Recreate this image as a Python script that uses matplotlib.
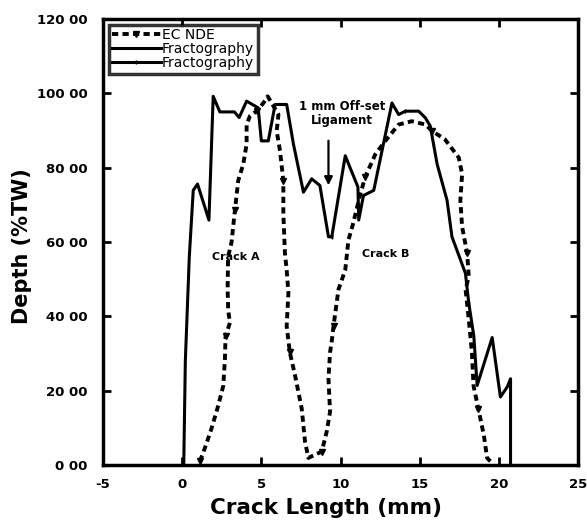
import matplotlib
matplotlib.use("Agg")
import matplotlib.pyplot as plt

# EC NDE (dashed)
ec_x = [1.12, 1.43, 1.86, 2.28, 2.6, 2.7, 2.74, 3.02, 2.91, 2.87, 2.9, 3.12, 3.33, 3.54, 3.86, 4.07, 4.07, 4.28,
        4.7, 5.13, 5.4, 6.08, 5.97, 6.18, 6.39, 6.39, 6.49, 6.6, 6.71, 6.6, 6.8, 7.13, 7.55, 7.76, 7.97, 8.4, 8.82,
        9.13, 9.34, 9.24, 9.34, 9.45, 9.56, 9.87, 10.3, 10.5, 10.8, 11.2, 11.55, 12.2, 12.83, 13.67, 14.5, 15.36,
        15.78, 16.6, 17.47, 17.68, 17.57, 17.68, 18.0, 18.1, 17.9, 18.1, 18.3, 18.4, 18.7, 19.05, 19.26, 19.46]
ec_y = [1.0, 4.5, 9.9, 16.0, 21.4, 28.5, 34.7, 38.3, 41.4, 47.2, 56.0, 60.0, 68.5, 76.5, 81.0, 86.3, 91.6, 93.9,
        95.2, 97.4, 99.2, 94.3, 89.9, 84.5, 76.5, 67.7, 57.0, 52.5, 46.3, 37.4, 30.3, 24.1, 15.2, 6.3, 1.9, 2.8, 3.6,
        9.0, 14.3, 23.2, 30.3, 33.4, 37.4, 47.2, 52.5, 60.5, 65.0, 72.0, 77.4, 83.6, 87.2, 91.6, 92.5, 91.6,
        89.9, 87.6, 82.7, 78.3, 71.2, 64.1, 57.0, 50.7, 47.2, 39.2, 30.3, 21.4, 15.2, 8.1, 1.9, 1.0]

# Fractography, crack A (solid)
fa_x = [0.1, 0.2, 0.45, 0.7, 0.97, 1.69, 1.96, 2.38, 3.3, 3.6, 4.07, 4.8, 5.0, 5.44, 5.87, 6.6, 7.03, 7.66,
        8.18, 8.7, 9.24, 9.45]
fa_y = [0.0, 28.0, 56.0, 73.9, 75.6, 65.9, 99.2, 95.0, 95.0, 93.5, 97.9, 96.1, 87.2, 87.2, 97.0, 97.0, 86.3, 73.4,
        77.0, 75.2, 61.4, 61.4]

# Fractography, crack B (solid)
fb_x = [9.45, 10.3, 11.1, 11.15, 11.45, 12.1, 13.25, 13.67, 14.1, 14.94, 15.36, 15.67, 16.1, 16.73, 17.04,
        17.89, 18.1, 18.42, 18.63, 19.58, 20.1, 20.53, 20.74, 20.74]
fb_y = [61.4, 83.2, 74.8, 65.9, 72.5, 73.9, 97.4, 94.3, 95.2, 95.2, 93.4, 91.2, 81.0, 71.2, 61.4,
        51.6, 43.6, 34.7, 21.4, 34.3, 18.3, 21.0, 23.2, 0.5]

x_ticks = [-5, 0, 5, 10, 15, 20, 25]
x_labels = ["-5", "0", "5", "10", "15", "20", "25"]
y_ticks = [0, 20, 40, 60, 80, 100, 120]
y_labels = ["0 00", "20 00", "40 00", "60 00", "80 00", "100 00", "120 00"]

fig = plt.figure(figsize=(5.87, 5.25), dpi=100)
ax = fig.add_axes([103 / 587, 1 - 465 / 525, (578 - 103) / 587, (465 - 19) / 525])

ax.plot(ec_x, ec_y, color="black", linestyle=(0, (1.6, 1.1)), linewidth=2.8,
        marker="v", markersize=4, markevery=6, label="EC NDE")
ax.plot(fa_x, fa_y, color="black", linestyle="-", linewidth=2.2, label="Fractography")
ax.plot(fb_x, fb_y, color="black", linestyle="-", linewidth=2.2,
        marker="|", markersize=3, markevery=8, label="Fractography")

ax.set_xlim(-5, 25)
ax.set_ylim(0, 120)
ax.set_xticks(x_ticks)
ax.set_xticklabels(x_labels)
ax.set_yticks(y_ticks)
ax.set_yticklabels(y_labels)
for lab in ax.get_xticklabels() + ax.get_yticklabels():
    lab.set_fontweight("bold")
    lab.set_fontsize(9.5)
ax.tick_params(direction="in", length=6, width=2, top=True, right=True)
ax.tick_params(axis="y", pad=11)
ax.tick_params(axis="x", pad=9)
for s in ax.spines.values():
    s.set_linewidth(2.5)

ax.set_xlabel("Crack Length (mm)", fontsize=15.5, fontweight="bold", labelpad=4)
ax.xaxis.set_label_coords(0.47, -0.075)
ax.set_ylabel("Depth (%TW)", fontsize=15, fontweight="bold", labelpad=6)
ax.yaxis.set_label_coords(-0.15, 0.49)

ax.text(3.4, 56, "Crack A", fontsize=8, fontweight="bold", ha="center", va="center")
ax.text(12.85, 56.8, "Crack B", fontsize=8, fontweight="bold", ha="center", va="center")
ax.text(10.1, 94.5, "1 mm Off-set\nLigament", fontsize=8.5, fontweight="bold", ha="center", va="center",
        linespacing=1.1)
ax.annotate("", xy=(9.24, 74.5), xytext=(9.24, 88),
            arrowprops=dict(arrowstyle="-|>", color="black", lw=1.6, mutation_scale=12))

leg = ax.legend(loc="upper left", fontsize=10, frameon=True, fancybox=False, handlelength=3.5,
                handletextpad=0.1, borderpad=0.25, labelspacing=0.0, borderaxespad=0.4)
leg.get_frame().set_edgecolor("black")
leg.get_frame().set_linewidth(2.5)

fig.savefig("out.png", dpi=100)
